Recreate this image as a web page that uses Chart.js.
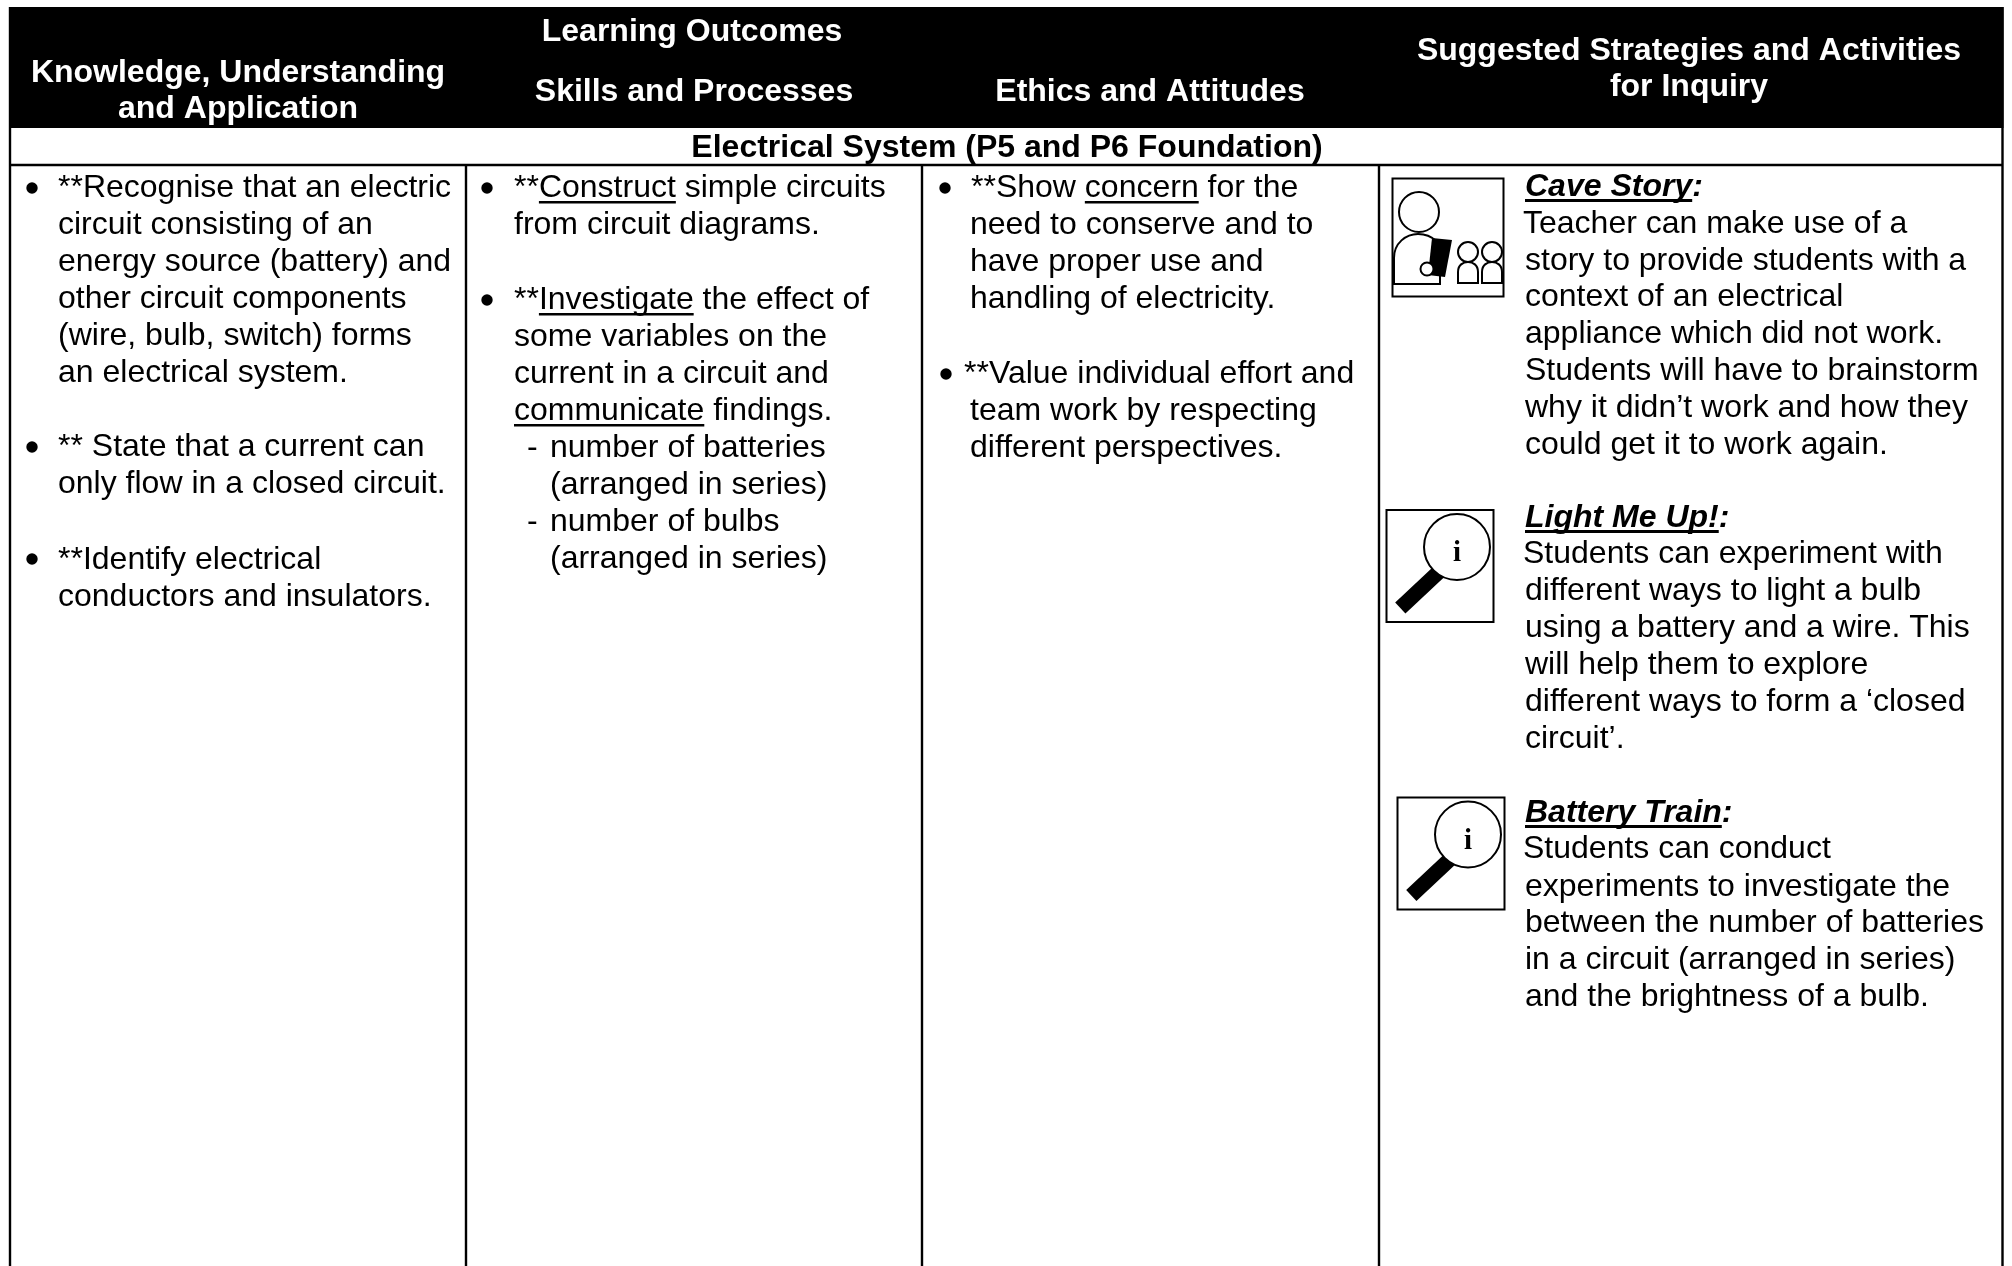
<!DOCTYPE html>
<html><head><meta charset="utf-8">
<style>html,body{margin:0;padding:0;background:#fff}canvas{display:block}</style>
<script src="https://cdn.jsdelivr.net/npm/chart.js@4"></script>
</head><body>
<canvas id="c" width="2012" height="1266"></canvas>
<script>
// Text content
const headerTexts = ["Knowledge, Understanding","and Application","Learning Outcomes","Skills and Processes","Ethics and Attitudes","Suggested Strategies and Activities","for Inquiry"];
const sectionTitle = "Electrical System (P5 and P6 Foundation)";
const col1Lines = ["**Recognise that an electric","circuit consisting of an","energy source (battery) and","other circuit components","(wire, bulb, switch) forms","an electrical system.","** State that a current can","only flow in a closed circuit.","**Identify electrical","conductors and insulators."];
const col2Lines = ["**_Construct_ simple circuits","from circuit diagrams.","**_Investigate_ the effect of","some variables on the","current in a circuit and","_communicate_ findings.","-","number of batteries","(arranged in series)","-","number of bulbs","(arranged in series)"];
const col3Lines = ["**Show _concern_ for the","need to conserve and to","have proper use and","handling of electricity.","**Value individual effort and","team work by respecting","different perspectives."];
const col4Headings = ["Cave Story","Light Me Up!","Battery Train"];
const col4Lines = ["Teacher can make use of a","story to provide students with a","context of an electrical","appliance which did not work.","Students will have to brainstorm","why it didn’t work and how they","could get it to work again.","Students can experiment with","different ways to light a bulb","using a battery and a wire. This","will help them to explore","different ways to form a ‘closed","circuit’.","Students can conduct","experiments to investigate the","between the number of batteries","in a circuit (arranged in series)","and the brightness of a bulb."];

// Layout (kept apart from the text)
const headerX = [238,238,692,694,1150,1689,1689];
const headerY = [82,118,41,101,101,60,96];
const col1X = [58,58,58,58,58,58,58,58,58,58];
const col1Y = [197,234,271,308,345,382,456,493,569,606];
const col1Bullets = [[32,188],[32,447],[32,559]];
const col2X = [514,514,514,514,514,514,527,550,550,527,550,550];
const col2Y = [197,234,309,346,383,420,457,457,494,531,531,568];
const col2Bullets = [[487,188],[487,300]];
const col3X = [971,970,970,970,964,970,970];
const col3Y = [197,234,271,308,383,420,457];
const col3Bullets = [[945,188],[946,374]];
const col4HeadX = [1525,1525,1525];
const col4HeadY = [196,527,822];
const col4X = [1523,1525,1525,1525,1525,1525,1525,1523,1525,1525,1525,1525,1525,1523,1525,1525,1525,1525];
const col4Y = [233,270,306,343,380,417,454,563,600,637,674,711,748,858,896,932,969,1006];
const ruleX = [10,466,922,1379,2002.5];
const ruleTop = [7,165,165,165,7];
const ruleBottom = [1266,1266,1266,1266,1266];
const hRuleY = [165];
const BODY = '32px "Liberation Sans"', BOLD = 'bold 32px "Liberation Sans"', HEAD = 'italic bold 32px "Liberation Sans"';

const ruleDatasets = ruleX.map((x,i)=>({type:'scatter',showLine:true,pointRadius:0,borderColor:'#000',borderWidth:2.4,
  data:[{x,y:ruleTop[i]},{x,y:ruleBottom[i]}]}));
hRuleY.forEach(y=>ruleDatasets.push({type:'scatter',showLine:true,pointRadius:0,borderColor:'#000',borderWidth:2.4,
  data:[{x:ruleX[0],y},{x:ruleX[4],y}]}));

function drawRich(ctx,line,x,y){
  let cx=x;
  line.split('_').forEach((seg,i)=>{
    ctx.fillText(seg,cx,y);
    const w=ctx.measureText(seg).width;
    if(i%2===1) ctx.fillRect(cx,y+4,w,2.5);
    cx+=w;
  });
}
const tablePlugin={id:'table',
  beforeDatasetsDraw(chart){
    const {ctx,scales:{x,y}}=chart;
    ctx.save();ctx.fillStyle='#000';
    ctx.fillRect(x.getPixelForValue(9),y.getPixelForValue(7),x.getPixelForValue(2003.5)-x.getPixelForValue(9),y.getPixelForValue(128)-y.getPixelForValue(7));
    ctx.restore();
  },
  afterDatasetsDraw(chart){
    const {ctx,scales:{x,y}}=chart;
    const X=v=>x.getPixelForValue(v),Y=v=>y.getPixelForValue(v);
    ctx.save();
    ctx.textBaseline='alphabetic';
    // header
    ctx.font=BOLD;ctx.fillStyle='#fff';ctx.textAlign='center';
    headerTexts.forEach((t,i)=>ctx.fillText(t,X(headerX[i]),Y(headerY[i])));
    ctx.fillStyle='#000';
    ctx.fillText(sectionTitle,X(1007),Y(157));
    ctx.textAlign='left';
    // body columns
    ctx.font=BODY;
    [[col1Lines,col1X,col1Y],[col2Lines,col2X,col2Y],[col3Lines,col3X,col3Y],[col4Lines,col4X,col4Y]].forEach(([L,XS,YS])=>{
      L.forEach((t,i)=>drawRich(ctx,t,X(XS[i]),Y(YS[i])));
    });
    [col1Bullets,col2Bullets,col3Bullets].forEach(B=>B.forEach(([a,b])=>{
      ctx.beginPath();ctx.arc(X(a),Y(b),5.7,0,Math.PI*2);ctx.fill();
    }));
    // headings
    col4Headings.forEach((t,i)=>{
      ctx.font=HEAD;
      const w=ctx.measureText(t).width;
      ctx.fillText(t,X(col4HeadX[i]),Y(col4HeadY[i]));
      ctx.fillRect(X(col4HeadX[i]),Y(col4HeadY[i])+3,w,3);
      ctx.fillText(':',X(col4HeadX[i])+w,Y(col4HeadY[i]));
    });
    // icons
    drawTeacher(ctx,X,Y);
    drawLens(ctx,X,Y,0,0);
    drawLens(ctx,X,Y,11,287.5);
    ctx.restore();
  }
};
function drawTeacher(c,X,Y){
  c.save();c.strokeStyle='#000';c.lineWidth=2;c.fillStyle='#000';
  c.strokeRect(X(1392.5),Y(178.5),111,118);
  c.beginPath();c.arc(X(1419),Y(212),20,0,Math.PI*2);c.stroke();
  c.beginPath();c.moveTo(X(1394),Y(284));c.lineTo(X(1394),Y(258));
  c.bezierCurveTo(X(1394),Y(243),X(1406),Y(234),X(1418),Y(234));
  c.bezierCurveTo(X(1426),Y(234),X(1432),Y(237),X(1436),Y(241));c.stroke();
  c.beginPath();c.moveTo(X(1393),Y(284));c.lineTo(X(1440),Y(284));c.lineTo(X(1440),Y(272));c.stroke();
  c.beginPath();c.moveTo(X(1432),Y(238));c.lineTo(X(1452),Y(240));c.lineTo(X(1445),Y(277));c.lineTo(X(1428),Y(275));c.closePath();c.fill();
  c.beginPath();c.arc(X(1427),Y(269),6.5,0,Math.PI*2);c.fillStyle='#fff';c.fill();c.stroke();
  [1468,1492].forEach(h=>{
    c.beginPath();c.arc(X(h),Y(252),10,0,Math.PI*2);c.stroke();
    c.beginPath();c.moveTo(X(h-10),Y(283));c.lineTo(X(h-10),Y(272));
    c.bezierCurveTo(X(h-10),Y(265),X(h-5),Y(262),X(h),Y(262));
    c.bezierCurveTo(X(h+5),Y(262),X(h+10),Y(265),X(h+10),Y(272));
    c.lineTo(X(h+10),Y(283));c.closePath();c.stroke();
  });
  c.restore();
}
function drawLens(c,X,Y,dx,dy){
  c.save();c.strokeStyle='#000';c.fillStyle='#000';c.lineWidth=2;
  c.strokeRect(X(1386.5+dx),Y(510+dy),107,112);
  c.lineWidth=15;c.beginPath();c.moveTo(X(1438.7+dx),Y(572+dy));c.lineTo(X(1400.3+dx),Y(608+dy));c.stroke();
  c.lineWidth=2;c.beginPath();c.arc(X(1457+dx),Y(547+dy),33,0,Math.PI*2);c.fillStyle='#fff';c.fill();c.stroke();
  c.fillStyle='#000';c.font='bold 29px "Liberation Serif"';c.textAlign='center';
  c.fillText('i',X(1457+dx),Y(561+dy));
  c.restore();
}
new Chart(document.getElementById('c'),{
  type:'scatter',
  data:{datasets:ruleDatasets},
  options:{responsive:false,animation:false,events:[],
    layout:{padding:0},
    plugins:{legend:{display:false},tooltip:{enabled:false},title:{display:false}},
    scales:{x:{type:'linear',display:false,min:0,max:2012},y:{type:'linear',display:false,reverse:true,min:0,max:1266}}},
  plugins:[tablePlugin]
});
</script>
</body></html>
